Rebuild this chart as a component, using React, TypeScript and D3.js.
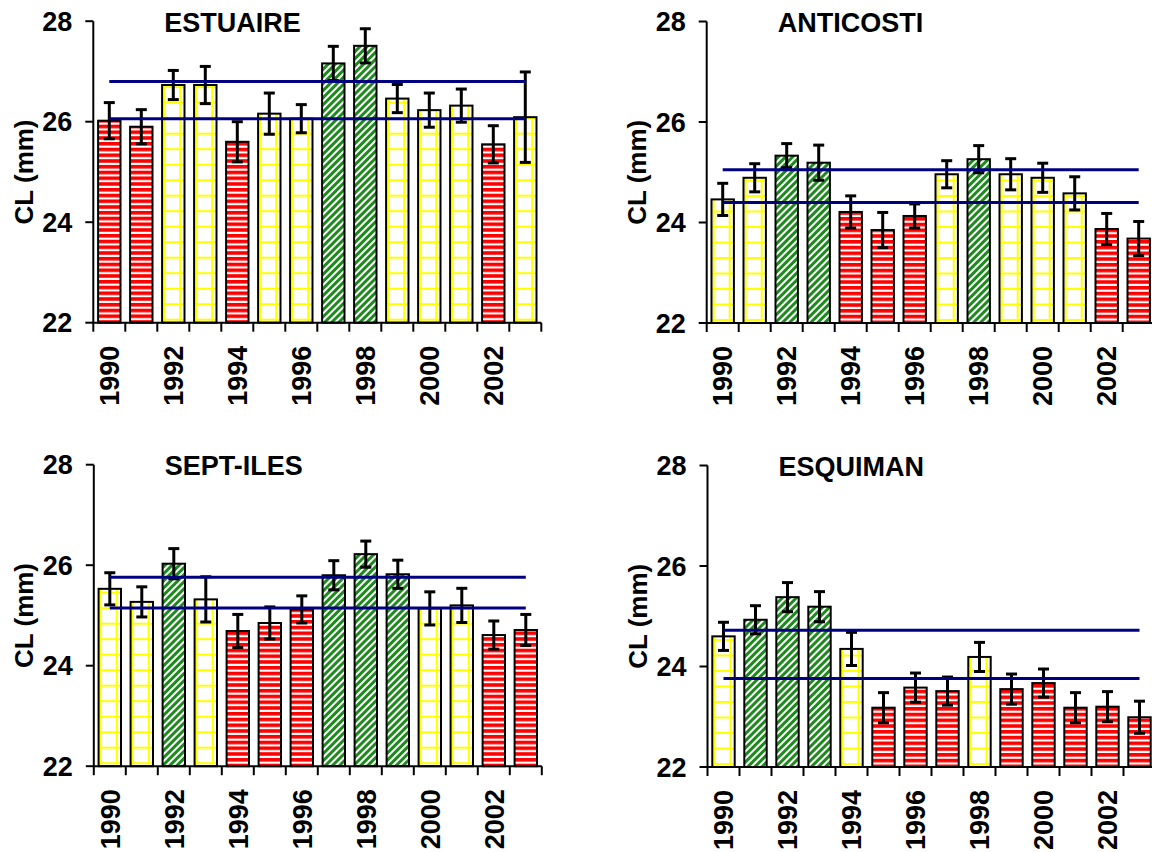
import React from 'react';
import * as d3 from 'd3';

const years = [1990, 1991, 1992, 1993, 1994, 1995, 1996, 1997, 1998, 1999, 2000, 2001, 2002, 2003];
const tickYears = [1990, 1992, 1994, 1996, 1998, 2000, 2002];
const yTicks = [22, 24, 26, 28];

const estuaireCL = [26.02, 25.9, 26.73, 26.73, 25.6, 26.16, 26.06, 27.16, 27.51, 26.46, 26.23, 26.32, 25.55, 26.09];
const estuaireErr = [0.36, 0.34, 0.29, 0.37, 0.4, 0.41, 0.28, 0.34, 0.34, 0.28, 0.34, 0.33, 0.37, 0.9];
const estuaireCat = ['R', 'R', 'Y', 'Y', 'R', 'Y', 'Y', 'G', 'G', 'Y', 'Y', 'Y', 'R', 'Y'];
const estuaireRefs = [26.8, 26.06];

const anticostiCL = [24.46, 24.89, 25.33, 25.19, 24.21, 23.85, 24.13, 24.96, 25.26, 24.96, 24.89, 24.58, 23.87, 23.68];
const anticostiErr = [0.32, 0.28, 0.24, 0.35, 0.32, 0.35, 0.24, 0.27, 0.27, 0.31, 0.29, 0.33, 0.31, 0.34];
const anticostiCat = ['Y', 'Y', 'G', 'G', 'R', 'R', 'R', 'Y', 'G', 'Y', 'Y', 'Y', 'R', 'R'];
const anticostiRefs = [25.05, 24.4];

const septilesCL = [25.53, 25.27, 26.03, 25.32, 24.69, 24.85, 25.12, 25.8, 26.22, 25.82, 25.14, 25.2, 24.61, 24.71];
const septilesErr = [0.32, 0.3, 0.3, 0.45, 0.33, 0.32, 0.27, 0.29, 0.26, 0.28, 0.33, 0.34, 0.28, 0.31];
const septilesCat = ['Y', 'Y', 'G', 'Y', 'R', 'R', 'R', 'G', 'G', 'G', 'Y', 'Y', 'R', 'R'];
const septilesRefs = [25.76, 25.15];

const esquimanCL = [24.6, 24.93, 25.38, 25.19, 24.35, 23.18, 23.58, 23.51, 24.19, 23.55, 23.67, 23.18, 23.2, 22.99];
const esquimanErr = [0.28, 0.28, 0.29, 0.3, 0.33, 0.3, 0.29, 0.28, 0.29, 0.3, 0.28, 0.3, 0.3, 0.32];
const esquimanCat = ['Y', 'G', 'G', 'G', 'Y', 'R', 'R', 'R', 'Y', 'R', 'R', 'R', 'R', 'R'];
const esquimanRefs = [24.72, 23.76];

const W = 448;
const H = 301.5;
const FONT = '"Liberation Sans", Arial, Helvetica, sans-serif';

const fillFor: Record<string, string> = { R: 'url(#pRed)', Y: 'url(#pYel)', G: 'url(#pGrn)' };

type PanelProps = {
  x0: number;
  y0: number;
  title: string;
  values: number[];
  errs: number[];
  cats: string[];
  refs: number[];
};

function Panel({ x0, y0, title, values, errs, cats, refs }: PanelProps) {
  const x = d3.scaleBand<number>().domain(years).range([0, W]).paddingInner(0.3).paddingOuter(0.15);
  const y = d3.scaleLinear().domain([22, 28]).range([H, 0]);
  const step = x.step();
  const bw = x.bandwidth();
  const off = (step - bw) / 2;
  const cx = (yr: number) => (x(yr) as number) + bw / 2;
  const first = cx(years[0]);
  const last = cx(years[years.length - 1]);
  const boundaries = years.map((yr) => (x(yr) as number) - off).concat([W]);

  return (
    <g transform={`translate(${x0},${y0})`}>
      {years.map((yr, i) => (
        <rect
          key={yr}
          x={x(yr)}
          y={y(values[i])}
          width={bw}
          height={H - y(values[i])}
          fill={fillFor[cats[i]]}
          stroke="#000"
          strokeWidth={2}
        />
      ))}
      {years.map((yr, i) => {
        const c = cx(yr);
        const top = y(values[i] + errs[i]);
        const bot = y(values[i] - errs[i]);
        return (
          <g key={'e' + yr} stroke="#000" strokeWidth={3}>
            <line x1={c} x2={c} y1={top} y2={bot} />
            <line x1={c - 5.5} x2={c + 5.5} y1={top} y2={top} />
            <line x1={c - 5.5} x2={c + 5.5} y1={bot} y2={bot} />
          </g>
        );
      })}
      {refs.map((r, i) => (
        <line key={'r' + i} x1={first} x2={last} y1={y(r)} y2={y(r)} stroke="#000080" strokeWidth={3} />
      ))}
      {/* axes */}
      <line x1={0} x2={0} y1={0} y2={H} stroke="#000" strokeWidth={2} />
      <line x1={-1} x2={W} y1={H} y2={H} stroke="#000" strokeWidth={2} />
      {yTicks.map((t) => (
        <g key={'yt' + t}>
          <line x1={-8} x2={0} y1={y(t)} y2={y(t)} stroke="#000" strokeWidth={2} />
          <text
            x={-21}
            y={y(t)}
            dy="0.36em"
            textAnchor="end"
            fontFamily={FONT}
            fontWeight="bold"
            fontSize={27}
            fill="#000"
          >
            {t}
          </text>
        </g>
      ))}
      {boundaries.map((b, i) => (
        <line key={'xt' + i} x1={b} x2={b} y1={H} y2={H + 9} stroke="#000" strokeWidth={2} />
      ))}
      {tickYears.map((yr) => (
        <text
          key={'xl' + yr}
          transform={`translate(${cx(yr)},${H + 23}) rotate(-90)`}
          dy="0.36em"
          textAnchor="end"
          fontFamily={FONT}
          fontWeight="bold"
          fontSize={27}
          fill="#000"
        >
          {yr}
        </text>
      ))}
      <text
        transform={`translate(${-70},${H / 2}) rotate(-90)`}
        dy="0.36em"
        textAnchor="middle"
        fontFamily={FONT}
        fontWeight="bold"
        fontSize={26}
        fill="#000"
      >
        CL (mm)
      </text>
      <text x={71} y={10.5} textAnchor="start" fontFamily={FONT} fontWeight="bold" fontSize={27} fill="#000">
        {title}
      </text>
    </g>
  );
}

export default function App() {
  return (
    <svg
      width={1152}
      height={852}
      style={{ position: 'absolute', left: 0, top: 0, background: '#fff' }}
      xmlns="http://www.w3.org/2000/svg"
    >
      <defs>
        <pattern id="pRed" patternUnits="userSpaceOnUse" width={8} height={5.75}>
          <rect width={8} height={5.75} fill="#fff" />
          <rect width={8} height={3.6} fill="#FF0000" />
        </pattern>
        <pattern id="pYel" patternUnits="userSpaceOnUse" width={16} height={15.5} x={6} y={3}>
          <rect width={16} height={15.5} fill="#fff" />
          <rect width={2} height={15.5} fill="#FFFF00" />
          <rect width={16} height={2} fill="#FFFF00" />
        </pattern>
        <pattern id="pGrn" patternUnits="userSpaceOnUse" width={5} height={5} patternTransform="rotate(45)">
          <rect width={5} height={5} fill="#fff" />
          <rect width={3} height={5} fill="#1E8A1E" />
        </pattern>
      </defs>
      <rect width={1152} height={852} fill="#fff" />
      <Panel x0={93.3} y0={21.2} title="ESTUAIRE" values={estuaireCL} errs={estuaireErr} cats={estuaireCat} refs={estuaireRefs} />
      <Panel x0={706.7} y0={21.5} title="ANTICOSTI" values={anticostiCL} errs={anticostiErr} cats={anticostiCat} refs={anticostiRefs} />
      <Panel x0={93.8} y0={464.7} title="SEPT-ILES" values={septilesCL} errs={septilesErr} cats={septilesCat} refs={septilesRefs} />
      <Panel x0={707.5} y0={465.5} title="ESQUIMAN" values={esquimanCL} errs={esquimanErr} cats={esquimanCat} refs={esquimanRefs} />
    </svg>
  );
}
